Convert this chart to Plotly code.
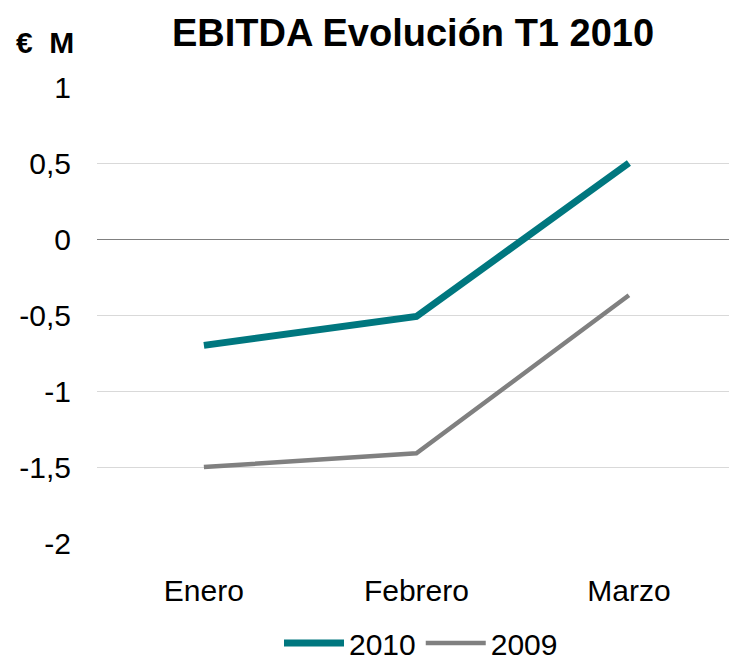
import plotly.graph_objects as go

categories = ["Enero", "Febrero", "Marzo"]
values_2010 = [-0.70, -0.51, 0.50]
values_2009 = [-1.50, -1.41, -0.37]
y_ticks = [1, 0.5, 0, -0.5, -1, -1.5, -2]
y_tick_labels = ["1", "0,5", "0", "-0,5", "-1", "-1,5", "-2"]

FONT = "Liberation Sans, Arial, sans-serif"
L, T, B = 97, 87, 119
PW, PH = 729 - L, 662 - T - B

fig = go.Figure()
fig.add_trace(go.Scatter(x=categories, y=values_2010, mode="lines", name="2010",
                         line=dict(color="#00777F", width=7)))
fig.add_trace(go.Scatter(x=categories, y=values_2009, mode="lines", name="2009",
                         line=dict(color="#808080", width=4.5)))

fig.update_layout(
    width=729, height=662,
    margin=dict(l=L, r=0, t=T, b=B, autoexpand=False),
    paper_bgcolor="white", plot_bgcolor="white",
    font=dict(family=FONT, size=30, color="black"),
    title=dict(text="<b>EBITDA Evolución T1 2010</b>", x=413 / 729, xanchor="center",
               y=1 - 33 / 662, yanchor="middle", font=dict(family=FONT, size=38, color="black")),
    showlegend=True,
    legend=dict(orientation="h", x=(421 - L) / PW, xanchor="center",
                y=-(643 - (T + PH)) / PH, yanchor="middle",
                font=dict(family=FONT, size=30, color="black"), itemwidth=60,
                tracegroupgap=0, traceorder="normal"),
    xaxis=dict(type="category", range=[-0.503, 2.471], showgrid=False, zeroline=False,
               showline=False, ticks="", tickfont=dict(family=FONT, size=30, color="black"),
               ticklabelstandoff=27),
    yaxis=dict(range=[-2, 1], tickvals=y_ticks, ticktext=y_tick_labels, showgrid=True,
               gridcolor="#D9D9D9", gridwidth=1.3, zeroline=True, zerolinecolor="#808080",
               zerolinewidth=1.3, showline=False, ticks="",
               tickfont=dict(family=FONT, size=30, color="black"), ticklabelstandoff=25),
)

fig.add_annotation(text="<b>€\u00a0\u00a0M</b>", xref="paper", yref="paper", x=(14 - L) / PW,
                   xanchor="left", y=1 + (T - 42) / PH, yanchor="middle", showarrow=False,
                   font=dict(family=FONT, size=30, color="black"))

fig.write_html("out.html", config={"displayModeBar": False},
               post_script="document.body.style.margin='0';")
